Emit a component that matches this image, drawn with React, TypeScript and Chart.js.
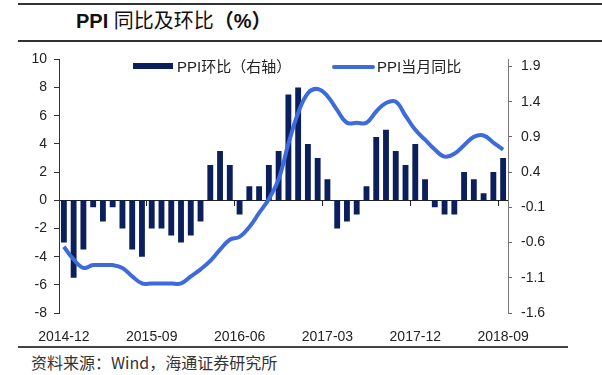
import React, { useEffect, useRef } from "react";
import { Chart, registerables } from "chart.js";

Chart.register(...registerables);

const MONTHS = [
  "2014-12",
  "2015-01", "2015-02", "2015-03", "2015-04", "2015-05", "2015-06",
  "2015-07", "2015-08", "2015-09", "2015-10", "2015-11", "2015-12",
  "2016-01", "2016-02", "2016-03", "2016-04", "2016-05", "2016-06",
  "2016-07", "2016-08", "2016-09", "2016-10", "2016-11", "2016-12",
  "2017-01", "2017-02", "2017-03", "2017-04", "2017-05", "2017-06",
  "2017-07", "2017-08", "2017-09", "2017-10", "2017-11", "2017-12",
  "2018-01", "2018-02", "2018-03", "2018-04", "2018-05", "2018-06",
  "2018-07", "2018-08", "2018-09",
];

const X_TICK_LABELS = ["2014-12", "2015-09", "2016-06", "2017-03", "2017-12", "2018-09"];

// PPI 环比 (right axis, %)
const PPI_MOM = [
  -0.6, -1.1, -0.7, -0.1, -0.3, -0.1, -0.4, -0.7, -0.8, -0.4, -0.4, -0.5,
  -0.6, -0.5, -0.3, 0.5, 0.7, 0.5, -0.2, 0.2, 0.2, 0.5, 0.7, 1.5,
  1.6, 0.8, 0.6, 0.3, -0.4, -0.3, -0.2, 0.2, 0.9, 1.0, 0.7, 0.5,
  0.8, 0.3, -0.1, -0.2, -0.2, 0.4, 0.3, 0.1, 0.4, 0.6,
];

// PPI 当月同比 (left axis, %)
const PPI_YOY = [
  -3.3, -4.2, -4.8, -4.6, -4.6, -4.6, -4.8, -5.4, -5.9, -5.9, -5.9, -5.9,
  -5.9, -5.4, -4.9, -4.3, -3.5, -2.8, -2.6, -1.9, -0.9, 0.1, 1.5, 4.0,
  6.2, 7.6, 7.9, 7.4, 6.4, 5.5, 5.5, 5.5, 6.3, 6.9, 7.0, 6.0,
  5.0, 4.3, 3.6, 3.1, 3.3, 3.9, 4.5, 4.6, 4.1, 3.6,
];

const LEFT_MIN = -8;
const LEFT_MAX = 10;
const LEFT_STEP = 2;
const RIGHT_MIN = -1.6;
const RIGHT_MAX = 2.0;
const RIGHT_TICKS = [-1.6, -1.1, -0.6, -0.1, 0.4, 0.9, 1.4, 1.9];

const BAR_LABEL = "PPI环比（右轴）";
const LINE_LABEL = "PPI当月同比";

const BAR_COLOR = "#0b1f5c";
const LINE_COLOR = "#3d6bdc";
const FONT = '"Liberation Sans", Arial, "Noto Sans CJK SC", sans-serif';
const CJK_FONT = '"Noto Sans CJK SC", "Liberation Sans", sans-serif';

export default function App() {
  const canvasRef = useRef<HTMLCanvasElement | null>(null);

  useEffect(() => {
    const canvas = canvasRef.current;
    if (!canvas) return;
    const chart = new Chart(canvas, {
      type: "bar",
      data: {
        labels: MONTHS,
        datasets: [
          {
            type: "line",
            label: LINE_LABEL,
            data: PPI_YOY,
            xAxisID: "x",
            yAxisID: "y",
            borderColor: LINE_COLOR,
            backgroundColor: LINE_COLOR,
            borderWidth: 4,
            pointRadius: 0,
            tension: 0.4,
            order: 1,
          } as any,
          {
            type: "bar",
            label: BAR_LABEL,
            data: PPI_MOM,
            xAxisID: "x",
            yAxisID: "y1",
            backgroundColor: BAR_COLOR,
            borderWidth: 0,
            barPercentage: 0.6,
            categoryPercentage: 1,
            order: 2,
          } as any,
        ],
      },
      options: {
        responsive: false,
        maintainAspectRatio: false,
        animation: false,
        layout: { padding: { top: 17, left: 0, right: 0, bottom: 0 } },
        plugins: {
          legend: { display: false },
          tooltip: { enabled: false },
        },
        scales: {
          x: {
            type: "category",
            position: "bottom",
            offset: true,
            grid: { display: false },
            border: { display: false },
            ticks: {
              autoSkip: false,
              maxRotation: 0,
              minRotation: 0,
              padding: 8,
              color: "#222",
              font: { family: FONT, size: 14 },
              callback: (_v: any, i: number) =>
                X_TICK_LABELS.includes(MONTHS[i]) ? MONTHS[i] : "",
            },
            afterFit: (s: any) => {
              s.height = 29;
            },
          },
          x0: {
            type: "category",
            position: { y: 0 } as any,
            offset: true,
            ticks: { display: false },
            grid: {
              offset: true,
              drawOnChartArea: false,
              drawTicks: true,
              tickLength: 5,
              lineWidth: 1,
              color: (ctx: any) =>
                ctx.index < MONTHS.length && X_TICK_LABELS.includes(MONTHS[ctx.index])
                  ? "#222"
                  : "rgba(0,0,0,0)",
            },
            border: { display: true, color: "#222", width: 1 },
          } as any,
          y: {
            type: "linear",
            position: "left",
            min: LEFT_MIN,
            max: LEFT_MAX,
            ticks: {
              stepSize: LEFT_STEP,
              padding: 7,
              color: "#222",
              font: { family: FONT, size: 14 },
            },
            grid: {
              drawOnChartArea: false,
              drawTicks: true,
              tickLength: 5,
              color: "#333",
            },
            border: { display: true, color: "#333", width: 1 },
            afterFit: (s: any) => {
              s.width = 59;
            },
          },
          y1: {
            type: "linear",
            position: "right",
            min: RIGHT_MIN,
            max: RIGHT_MAX,
            bounds: "data",
            afterBuildTicks: (s: any) => {
              s.ticks = RIGHT_TICKS.map((v) => ({ value: v }));
            },
            ticks: {
              padding: 9,
              color: "#222",
              font: { family: FONT, size: 14 },
              callback: (v: any) => Number(v).toFixed(1),
            },
            grid: {
              drawOnChartArea: false,
              drawTicks: true,
              tickLength: 4,
              color: "#666",
            },
            border: { display: true, color: "#777", width: 1 },
            afterFit: (s: any) => {
              s.width = 94;
            },
          },
        },
      } as any,
    });
    return () => chart.destroy();
  }, []);

  return (
    <div
      style={{
        position: "absolute",
        left: 0,
        top: 0,
        width: 602,
        height: 375,
        background: "#fff",
        overflow: "hidden",
      }}
    >
      <div style={{ position: "absolute", left: 18, top: 3, width: 584, height: 2, background: "#333" }} />
      <div
        style={{
          position: "absolute",
          left: 76,
          top: 11,
          fontSize: 20,
          lineHeight: "20px",
          fontFamily: FONT,
          color: "#111",
          whiteSpace: "nowrap",
        }}
      >
        <span style={{ fontWeight: 700 }}>PPI</span> 同比及环比<span style={{ fontWeight: 700 }}>（%）</span>
      </div>
      <div style={{ position: "absolute", left: 18, top: 40, width: 584, height: 2, background: "#333" }} />

      <div style={{ position: "absolute", left: 0, top: 42, width: 602, height: 300 }}>
        <canvas ref={canvasRef} width={602} height={300} style={{ display: "block", width: 602, height: 300 }} />
      </div>

      {/* legend */}
      <div style={{ position: "absolute", left: 133, top: 63, width: 40, height: 6, background: BAR_COLOR }} />
      <div
        style={{
          position: "absolute",
          left: 177,
          top: 58,
          fontSize: 15,
          lineHeight: "17px",
          fontFamily: FONT,
          color: "#222",
          whiteSpace: "nowrap",
        }}
      >
        {BAR_LABEL}
      </div>
      <div
        style={{
          position: "absolute",
          left: 332,
          top: 65,
          width: 43,
          height: 4,
          borderRadius: 2,
          background: LINE_COLOR,
        }}
      />
      <div
        style={{
          position: "absolute",
          left: 377,
          top: 58,
          fontSize: 15,
          lineHeight: "17px",
          fontFamily: FONT,
          color: "#222",
          whiteSpace: "nowrap",
        }}
      >
        {LINE_LABEL}
      </div>

      <div style={{ position: "absolute", left: 18, top: 346, width: 550, height: 2, background: "#444" }} />
      <div
        style={{
          position: "absolute",
          left: 31,
          top: 354,
          fontSize: 16,
          lineHeight: "16px",
          fontFamily: CJK_FONT,
          color: "#333",
          whiteSpace: "nowrap",
        }}
      >
        资料来源：Wind，海通证券研究所
      </div>
    </div>
  );
}
